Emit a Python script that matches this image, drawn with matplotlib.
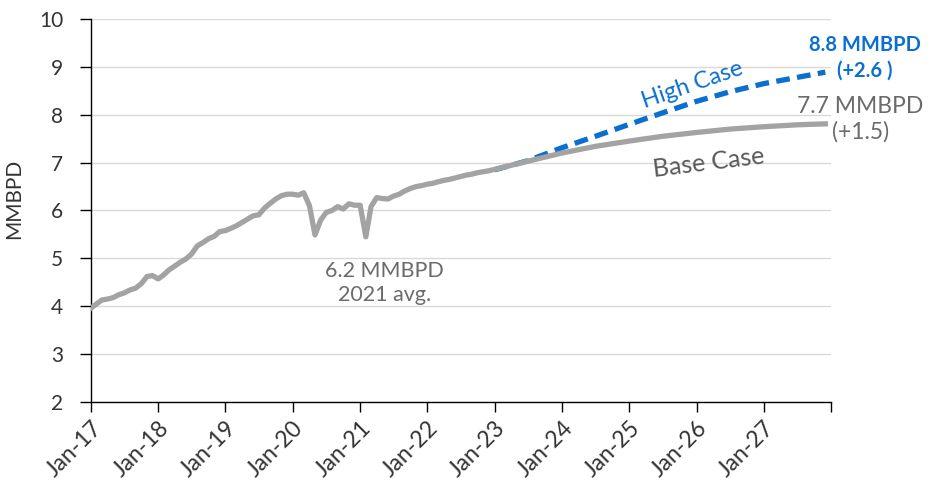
import pandas as pd
import matplotlib.pyplot as plt

# ------------------------------------------------------------
# Data (MMBPD)
# ------------------------------------------------------------

hist_values = [
    3.96, 4.05, 4.13, 4.15, 4.18, 4.24, 4.28, 4.34, 4.38, 4.47, 4.62, 4.64,
    4.57, 4.66, 4.76, 4.84, 4.92, 4.99, 5.09, 5.26, 5.33, 5.41, 5.46, 5.56,
    5.58, 5.63, 5.68, 5.75, 5.82, 5.89, 5.91, 6.05, 6.15, 6.24, 6.31, 6.34,
    6.34, 6.32, 6.37, 6.10, 5.49, 5.80, 5.96, 6.00, 6.08, 6.03, 6.14, 6.11,
    6.11, 5.45, 6.08, 6.27, 6.25, 6.24, 6.30, 6.34, 6.41, 6.46, 6.50, 6.52,
    6.55, 6.57, 6.60, 6.63, 6.65, 6.68, 6.71, 6.74, 6.76, 6.79, 6.81, 6.83,
]
hist_dates = pd.date_range("2017-01-01", periods=len(hist_values), freq="MS")

proj_dates = pd.to_datetime([
    "2023-01-01", "2023-07-01", "2024-01-01", "2024-07-01", "2025-01-01",
    "2025-07-01", "2026-01-01", "2026-07-01", "2027-01-01", "2027-07-01",
    "2027-12-01",
])
base_values = [6.85, 7.03, 7.20, 7.34, 7.45, 7.55, 7.63, 7.70, 7.75, 7.79, 7.81]
high_values = [6.85, 7.04, 7.31, 7.55, 7.80, 8.04, 8.28, 8.48, 8.65, 8.78, 8.89]

year_ticks = pd.date_range("2017-01-01", "2028-01-01", freq="YS")
tick_labels = ["Jan-%02d" % (d.year % 100) for d in year_ticks[:-1]] + [""]

gray = "#a3a3a3"
blue = "#0a6fd0"

plt.rcParams["font.family"] = ["Lato", "DejaVu Sans"]

# ------------------------------------------------------------
# Plot
# ------------------------------------------------------------

fig = plt.figure(figsize=(9.33, 4.91), dpi=100)
ax = fig.add_axes([0.0975, 0.1813, 0.7932, 0.78])

ax.plot(proj_dates, high_values, color=blue, lw=3.8, ls=(0, (2.6, 1.4)),
        dash_capstyle="butt", zorder=3)
ax.plot(list(hist_dates) + list(proj_dates[1:]),
        hist_values + base_values[1:], color=gray, lw=3.8,
        solid_joinstyle="round", zorder=4)

ax.set_xlim(year_ticks[0], year_ticks[-1])
ax.set_ylim(2, 10)
ax.set_yticks(range(2, 11))
ax.set_xticks(year_ticks)
ax.set_xticklabels(tick_labels, rotation=45, ha="right",
                   rotation_mode="anchor")

ax.grid(axis="y", color="#d9d9d9", lw=1)
ax.set_axisbelow(True)
for s in ["top", "right"]:
    ax.spines[s].set_visible(False)
for s in ["left", "bottom"]:
    ax.spines[s].set_color("black")
    ax.spines[s].set_linewidth(1)

ax.tick_params(axis="y", length=8, width=1, labelsize=15, colors="#333333",
               pad=12)
ax.tick_params(axis="x", length=7, width=1, labelsize=16.5, colors="#333333",
               pad=4)
ax.tick_params(axis="both", color="black")
ax.set_ylabel("MMBPD", fontsize=15, color="#333333", labelpad=4)
ax.yaxis.set_label_coords(-0.09, 0.53)

# annotations
ax.text(pd.Timestamp("2021-05-15"), 4.49, "6.2 MMBPD\n2021 avg.",
        ha="center", va="center", fontsize=15.5, color="#6b6b6b",
        linespacing=1.25)
ax.text(pd.Timestamp("2026-03-10"), 7.0, "Base Case", ha="center",
        va="center", fontsize=18, color="#595959", rotation=7)
ax.text(pd.Timestamp("2025-12-10"), 8.62, "High Case", ha="center",
        va="center", fontsize=17, color=blue, rotation=19)
ax.text(pd.Timestamp("2028-07-01"), 9.19, "8.8 MMBPD\n(+2.6 )",
        ha="center", va="center", fontsize=14.5, color=blue,
        fontweight="bold", linespacing=1.3, clip_on=False)
ax.text(pd.Timestamp("2028-06-10"), 7.90, "7.7 MMBPD\n(+1.5)",
        ha="center", va="center", fontsize=16.5, color="#6b6b6b",
        linespacing=1.25, clip_on=False)

fig.savefig("out.png", dpi=100)
